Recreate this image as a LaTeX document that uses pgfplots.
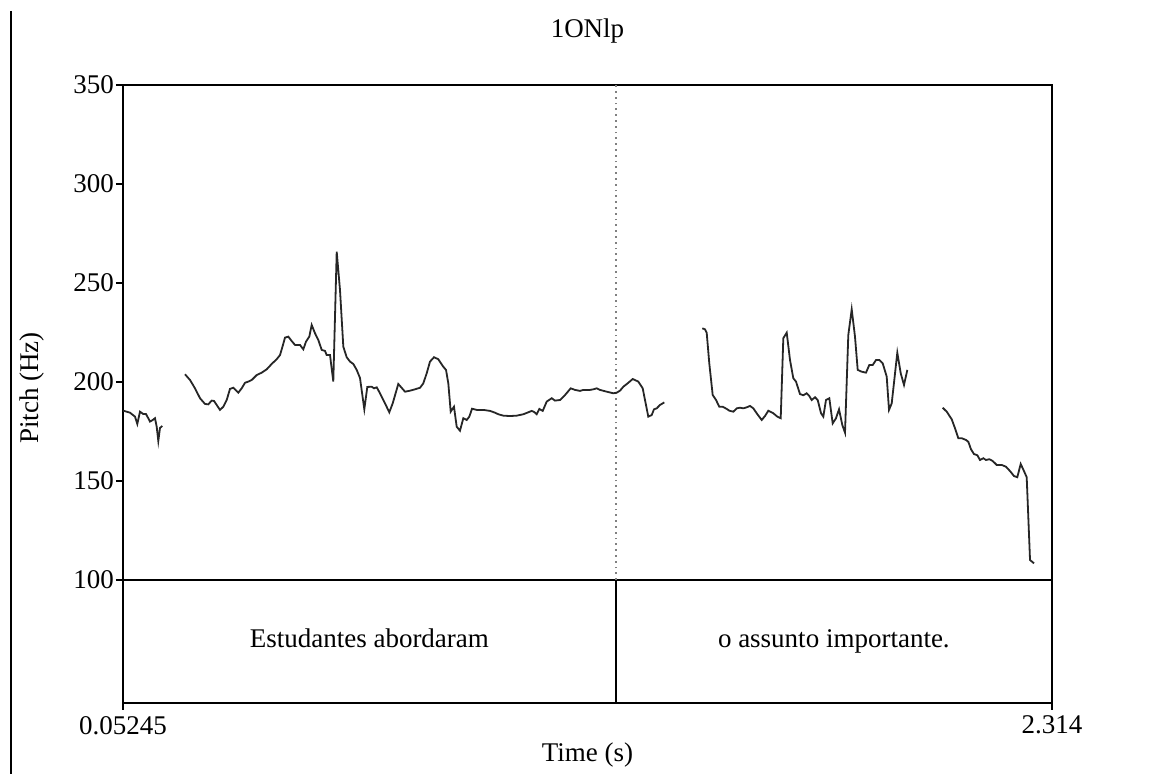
\documentclass[border=0pt]{standalone}
\usepackage{pgfplots}
\pgfplotsset{compat=1.18}
\usepackage{fontspec}
\setmainfont{Liberation Serif}
\begin{document}
\begin{tikzpicture}[font=\fontsize{13.5}{16}\selectfont]
\useasboundingbox (0,0) rectangle (581.5pt,387pt);
\draw[line width=1pt] (5.5pt,381.5pt) -- (5.5pt,0pt);
\begin{axis}[
  at={(61.5pt,35.5pt)}, anchor=south west,
  scale only axis, width=464.5pt, height=309pt,
  xmin=0.05245, xmax=2.314, ymin=37.88, ymax=350,
  xtick={0.05245,2.314}, xticklabels={0.05245,2.314},
  ytick={100,150,200,250,300,350}, yticklabels={100,150,200,250,300,350},
  tick align=outside, xtick pos=bottom, ytick pos=left,
  major tick length=3.5pt,
  axis line style={line width=0.9pt},
  tick style={line width=0.9pt, black},
  xticklabel style={yshift=0.5pt},
  yticklabel style={xshift=2.5pt},
  clip=false,
]
\draw[line width=0.9pt] (axis cs:0.05245,100) -- (axis cs:2.314,100);
\draw[line width=0.9pt] (axis cs:1.2519,37.88) -- (axis cs:1.2519,100);
\draw[gray, dotted, line width=0.9pt] (axis cs:1.2519,100) -- (axis cs:1.2519,350);
\node[anchor=base] at (axis cs:0.65218,65.66) {Estudantes abordaram};
\node[anchor=base] at (axis cs:1.78295,65.66) {o assunto importante.};
\node at (rel axis cs:0.5,1) [yshift=27pt] {1ONlp};
\node at (rel axis cs:0.5,0) [yshift=-26pt] {Time (s)};
\node[rotate=90] at (axis cs:-0.1691,197) {Pitch (Hz)};

\addplot[black!85, line width=0.9pt] coordinates {
(0.0532,185.5) (0.0695,184.5) (0.0817,182.5) (0.0873,178.8) (0.0938,185.0)
(0.1019,183.8) (0.1084,183.8) (0.1140,181.7) (0.1182,180.0) (0.1248,180.8)
(0.1303,181.7) (0.1345,177.4) (0.1384,170.2) (0.1425,176.8) (0.1481,177.8)
};
\addplot[black!85, line width=0.9pt] coordinates {
(0.2034,203.9) (0.2156,201.0) (0.2277,196.8) (0.2399,191.8) (0.2521,188.9)
(0.2601,188.7) (0.2684,190.6) (0.2740,190.4) (0.2806,188.4) (0.2886,185.9)
(0.2966,187.5) (0.3049,190.9) (0.3129,196.5) (0.3210,197.1) (0.3331,194.6)
(0.3414,196.8) (0.3495,199.6) (0.3575,200.2) (0.3658,201.0) (0.3779,203.5)
(0.3901,204.7) (0.4023,206.4) (0.4144,209.1) (0.4266,211.5) (0.4347,213.6)
(0.4412,218.2) (0.4468,222.4) (0.4549,222.9) (0.4631,220.7) (0.4712,218.7)
(0.4833,218.7) (0.4914,216.5) (0.4980,220.4) (0.5060,222.9) (0.5118,228.8)
(0.5199,224.6) (0.5279,221.2) (0.5362,216.2) (0.5442,215.7) (0.5483,213.6)
(0.5564,213.6) (0.5644,200.2) (0.5727,265.8) (0.5807,246.5) (0.5888,217.8)
(0.5970,212.5) (0.6051,210.3) (0.6131,209.1) (0.6214,206.1) (0.6294,202.0)
(0.6399,186.2) (0.6472,197.5) (0.6579,197.6) (0.6635,196.8) (0.6701,197.3)
(0.6781,194.3) (0.6903,189.2) (0.7007,184.7) (0.7090,189.2) (0.7226,199.0)
(0.7390,195.1) (0.7511,195.6) (0.7633,196.3) (0.7755,197.1) (0.7835,199.3)
(0.7918,204.4) (0.7998,210.3) (0.8096,212.5) (0.8200,211.5) (0.8322,207.7)
(0.8388,206.1) (0.8444,199.3) (0.8502,185.0) (0.8582,187.5) (0.8648,177.4)
(0.8728,175.4) (0.8809,181.7) (0.8892,180.8) (0.8955,182.5) (0.9021,186.5)
(0.9135,185.9) (0.9296,185.9) (0.9459,185.4) (0.9581,184.5) (0.9661,183.7)
(0.9783,183.0) (0.9946,182.8) (1.0109,183.0) (1.0269,183.7) (1.0391,184.7)
(1.0474,185.4) (1.0537,184.8) (1.0596,183.7) (1.0659,186.4) (1.0742,185.4)
(1.0839,190.1) (1.0961,191.8) (1.1041,190.6) (1.1163,190.9) (1.1285,193.4)
(1.1423,196.8) (1.1528,196.0) (1.1650,195.5) (1.1730,196.0) (1.1893,196.0)
(1.1974,196.3) (1.2056,196.8) (1.2137,196.0) (1.2300,195.1) (1.2460,194.3)
(1.2543,194.6) (1.2623,195.6) (1.2704,197.6) (1.2826,199.6) (1.2933,201.5)
(1.3069,200.2) (1.3176,196.8) (1.3232,190.9) (1.3312,182.5) (1.3395,183.3)
(1.3451,186.2) (1.3517,186.7) (1.3597,188.4) (1.3702,189.7)
};
\addplot[black!85, line width=0.9pt] coordinates {
(1.4627,227.1) (1.4693,226.6) (1.4734,224.9) (1.4797,209.4) (1.4880,193.4)
(1.4961,190.9) (1.5041,187.5) (1.5124,187.5) (1.5221,186.4) (1.5284,185.5)
(1.5382,185.0) (1.5465,186.7) (1.5545,187.0) (1.5625,186.7) (1.5708,187.2)
(1.5788,187.9) (1.5869,186.7) (1.5951,184.2) (1.6073,180.8) (1.6153,182.8)
(1.6234,185.5) (1.6355,184.2) (1.6453,182.5) (1.6536,181.7) (1.6599,222.1)
(1.6682,224.9) (1.6762,211.1) (1.6842,201.9) (1.6908,200.2) (1.7005,193.9)
(1.7086,193.3) (1.7168,194.3) (1.7232,192.9) (1.7290,190.9) (1.7371,192.3)
(1.7436,190.9) (1.7517,184.2) (1.7573,182.5) (1.7638,190.9) (1.7719,191.8)
(1.7801,179.1) (1.7882,181.7) (1.7955,186.2) (1.8035,178.3) (1.8101,174.4)
(1.8181,223.7) (1.8264,236.7) (1.8344,222.9) (1.8410,206.1) (1.8507,205.2)
(1.8612,204.7) (1.8692,208.6) (1.8775,208.6) (1.8856,211.1) (1.8936,211.1)
(1.9019,209.4) (1.9116,202.7) (1.9172,185.9) (1.9238,189.2) (1.9374,214.8)
(1.9457,204.4) (1.9537,198.5) (1.9618,206.1)
};
\addplot[black!85, line width=0.9pt] coordinates {
(2.0479,187.0) (2.0577,185.0) (2.0698,181.2) (2.0779,176.6) (2.0859,171.6)
(2.0942,171.6) (2.1047,170.7) (2.1103,169.8) (2.1168,166.0) (2.1241,163.6)
(2.1322,163.0) (2.1387,160.6) (2.1468,161.5) (2.1533,160.6) (2.1614,161.0)
(2.1696,160.1) (2.1794,158.1) (2.1916,158.1) (2.2020,157.2) (2.2118,155.0)
(2.2215,152.5) (2.2295,151.9) (2.2378,158.6) (2.2458,155.0) (2.2524,151.9)
(2.2605,110.1) (2.2702,108.4)
};
\end{axis}
\end{tikzpicture}
\end{document}
